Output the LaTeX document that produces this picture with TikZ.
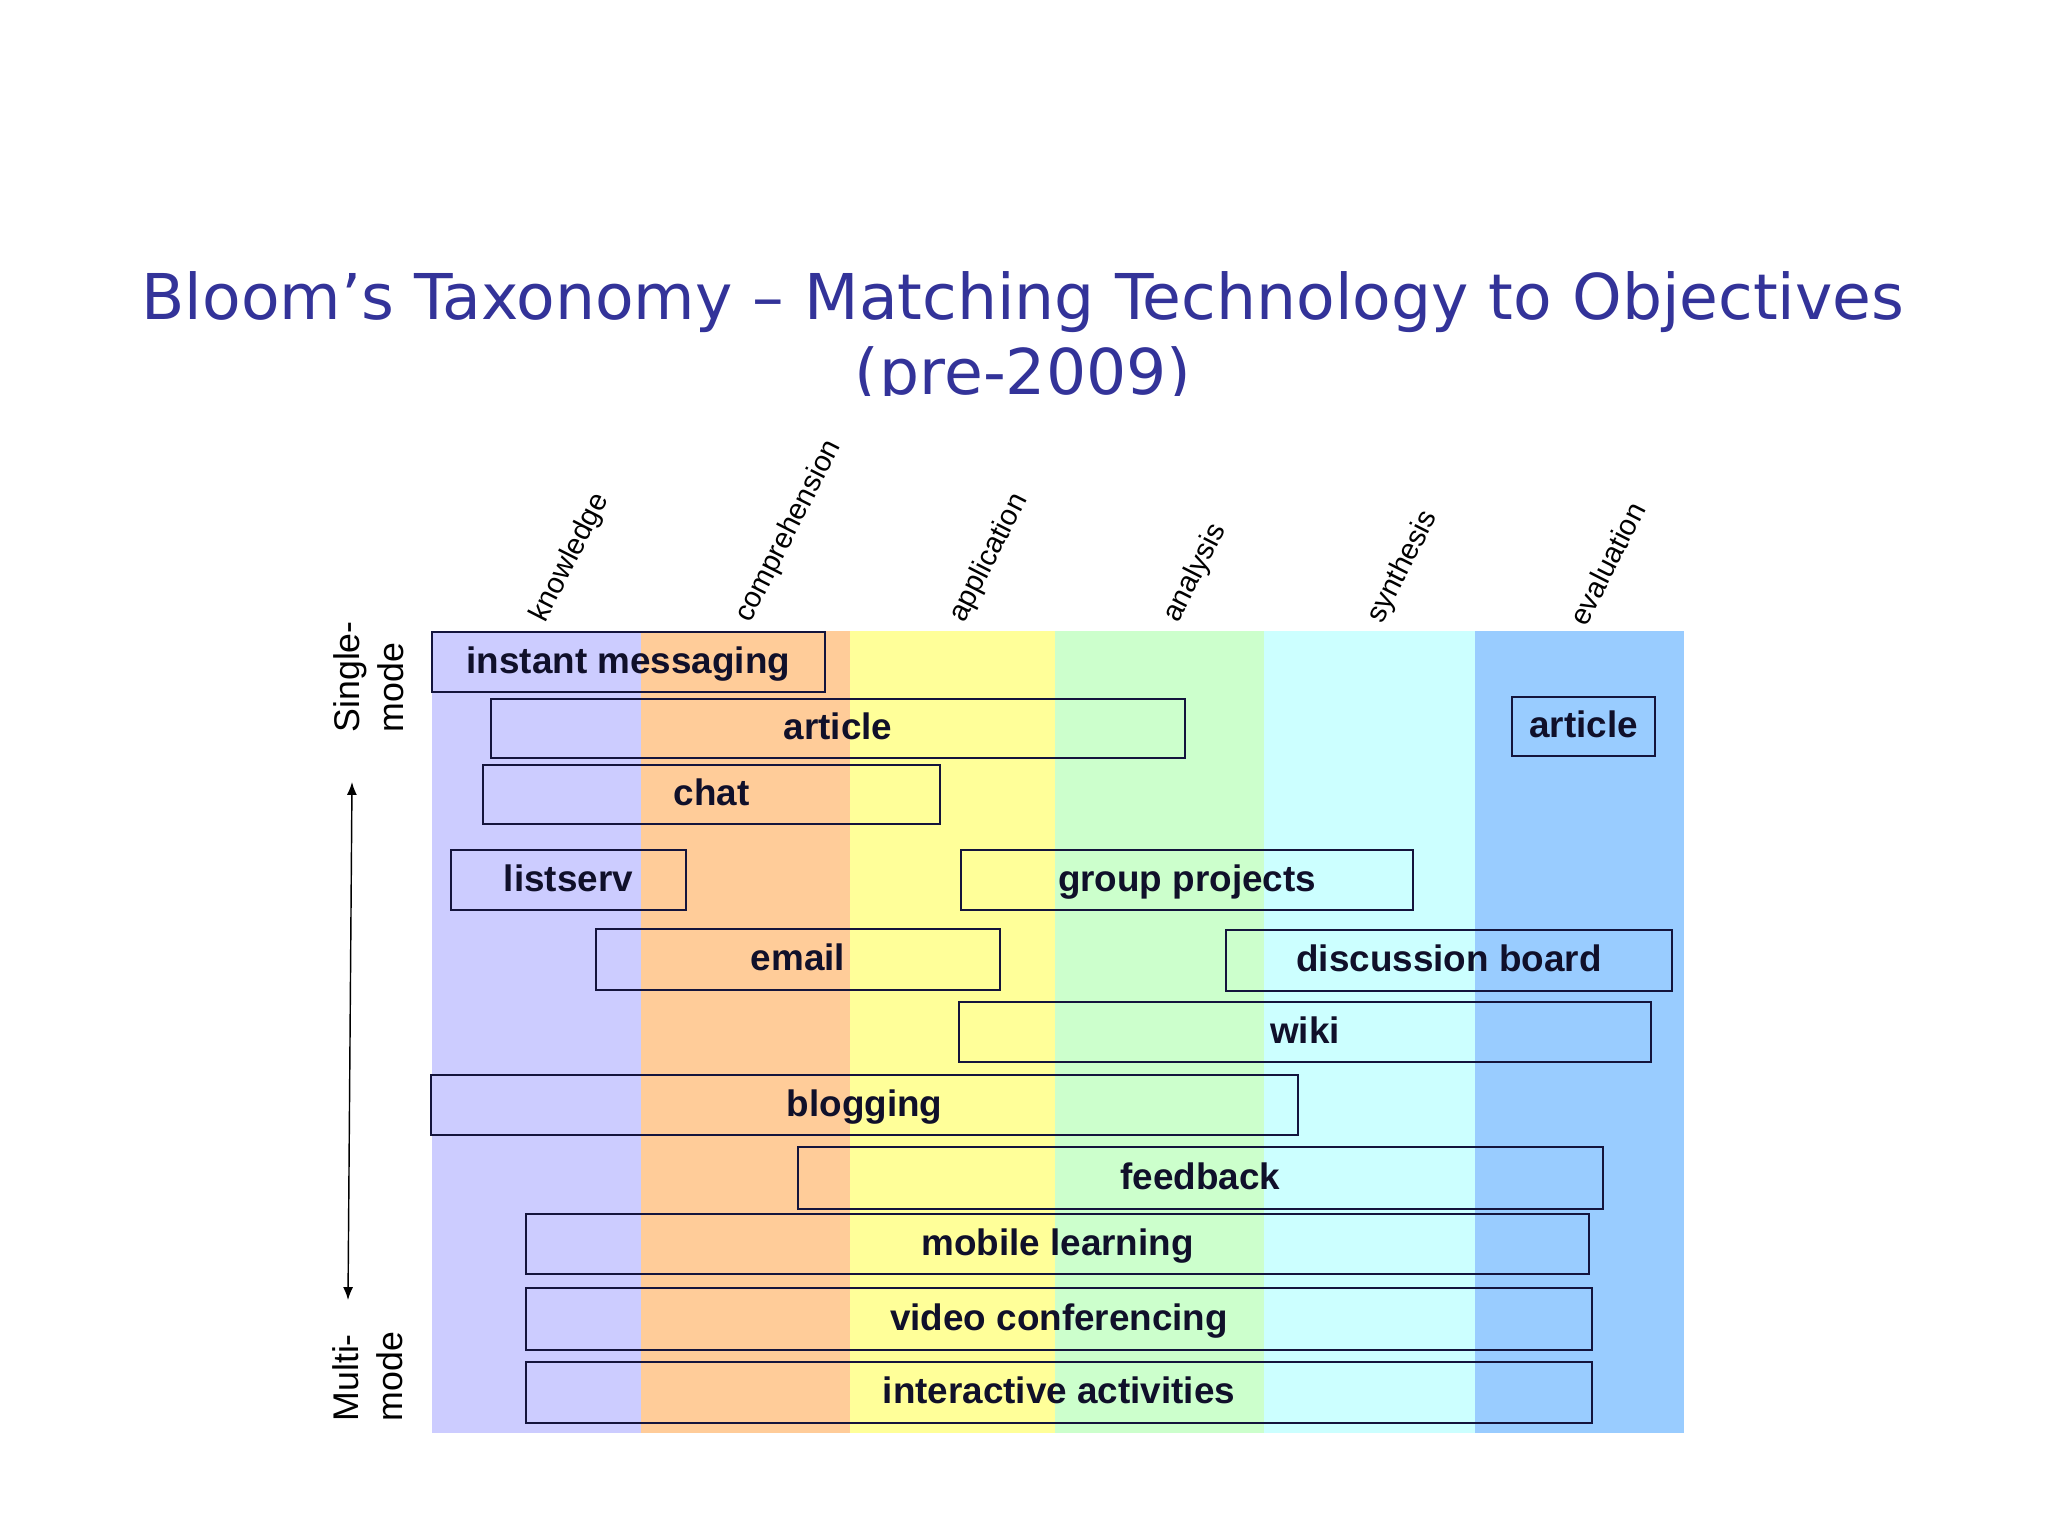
\documentclass[tikz,border=0pt]{standalone}
\usepackage{fontspec}
\setmainfont{Liberation Sans}
\newfontfamily\titlefont{DejaVu Sans}
\usetikzlibrary{arrows.meta}
\definecolor{titleblue}{HTML}{333399}
\definecolor{knowc}{HTML}{CCCCFF}
\definecolor{compc}{HTML}{FFCC99}
\definecolor{applc}{HTML}{FFFF99}
\definecolor{anac}{HTML}{CCFFCC}
\definecolor{sync}{HTML}{CCFFFF}
\definecolor{evalc}{HTML}{99CCFF}
\definecolor{boxline}{HTML}{14143C}
\definecolor{boxtext}{HTML}{10102A}
\newcommand\mkbox[6]{\node[techbox, minimum width={(#4-#2)*0.35pt}, minimum height={(#5-#3)*0.35pt}] (#1) at ({(#2+#4)/2},{(#3+#5)/2}) {#6};}
\begin{document}
\begin{tikzpicture}[x=0.35pt,y=-0.35pt,
  techbox/.style={draw=boxline, line width=0.7pt, inner sep=0pt, text=boxtext,
    font=\fontsize{12.9}{15}\selectfont\bfseries, text height=10pt, text depth=2pt},
  colhead/.style={rotate=63, anchor=base west, inner sep=0pt, font=\fontsize{10.2}{12}\selectfont},
  sidelabel/.style={rotate=90, anchor=south west, align=left, inner sep=0pt, font=\fontsize{12.5}{15.2}\selectfont},
  titletext/.style={anchor=base, inner sep=0pt, text=titleblue, font=\titlefont\fontsize{22.1}{26}\selectfont},
  tip/.tip={Latex[length=4.5pt,width=3.5pt]}]
\useasboundingbox (0,0) rectangle (2048,1536);
\fill[white] (0,0) rectangle (2048,1536);
% title
\begin{scope}
\clip (0,0) rectangle (2048,395.5);
\node[titletext] (t1) at (1023,319) {Bloom’s Taxonomy – Matching Technology to Objectives};
\node[titletext] (t2) at (1023,394) {(pre-2009)};
\end{scope}
% bands
\fill[knowc] (432,631) rectangle (641,1433);
\fill[compc] (641,631) rectangle (850,1433);
\fill[applc] (850,631) rectangle (1055,1433);
\fill[anac] (1055,631) rectangle (1264,1433);
\fill[sync] (1264,631) rectangle (1475,1433);
\fill[evalc] (1475,631) rectangle (1684,1433);
% column heads
\node[colhead] (hknow) at (545,624) {knowledge};
\node[colhead] (hcomp) at (750,624) {comprehension};
\node[colhead] (happ) at (964,624) {application};
\node[colhead] (hana) at (1178,624) {analysis};
\node[colhead] (hsyn) at (1382,625) {synthesis};
\node[colhead] (heval) at (1586,628) {evaluation};
% side labels
\node[sidelabel] (single) at (404,733) {Single-\\mode};
\node[sidelabel] (multi) at (403,1422) {Multi-\\mode};
\coordinate (atop) at (352,782);
\coordinate (abot) at (348,1300);
\draw[line width=0.5pt, {tip}-{tip}] (atop) -- (abot);
% boxes
\mkbox{im}{432}{632}{825}{692}{instant messaging}
\mkbox{art1}{491}{699}{1185}{758}{article}
\mkbox{art2}{1512}{697}{1655}{756}{article}
\mkbox{chat}{483}{765}{940}{824}{chat}
\mkbox{lists}{451}{850}{686}{910}{listserv}
\mkbox{group}{961}{850}{1413}{910}{group projects}
\mkbox{email}{596}{929}{1000}{990}{email}
\mkbox{disc}{1226}{930}{1672}{991}{discussion board}
\mkbox{wiki}{959}{1002}{1651}{1062}{wiki}
\mkbox{blog}{431}{1075}{1298}{1135}{blogging}
\mkbox{feed}{798}{1147}{1603}{1209}{feedback}
\mkbox{mobile}{526}{1214}{1589}{1274}{mobile learning}
\mkbox{video}{526}{1288}{1592}{1350}{video conferencing}
\mkbox{inter}{526}{1362}{1592}{1423}{interactive activities}
\end{tikzpicture}
\end{document}
